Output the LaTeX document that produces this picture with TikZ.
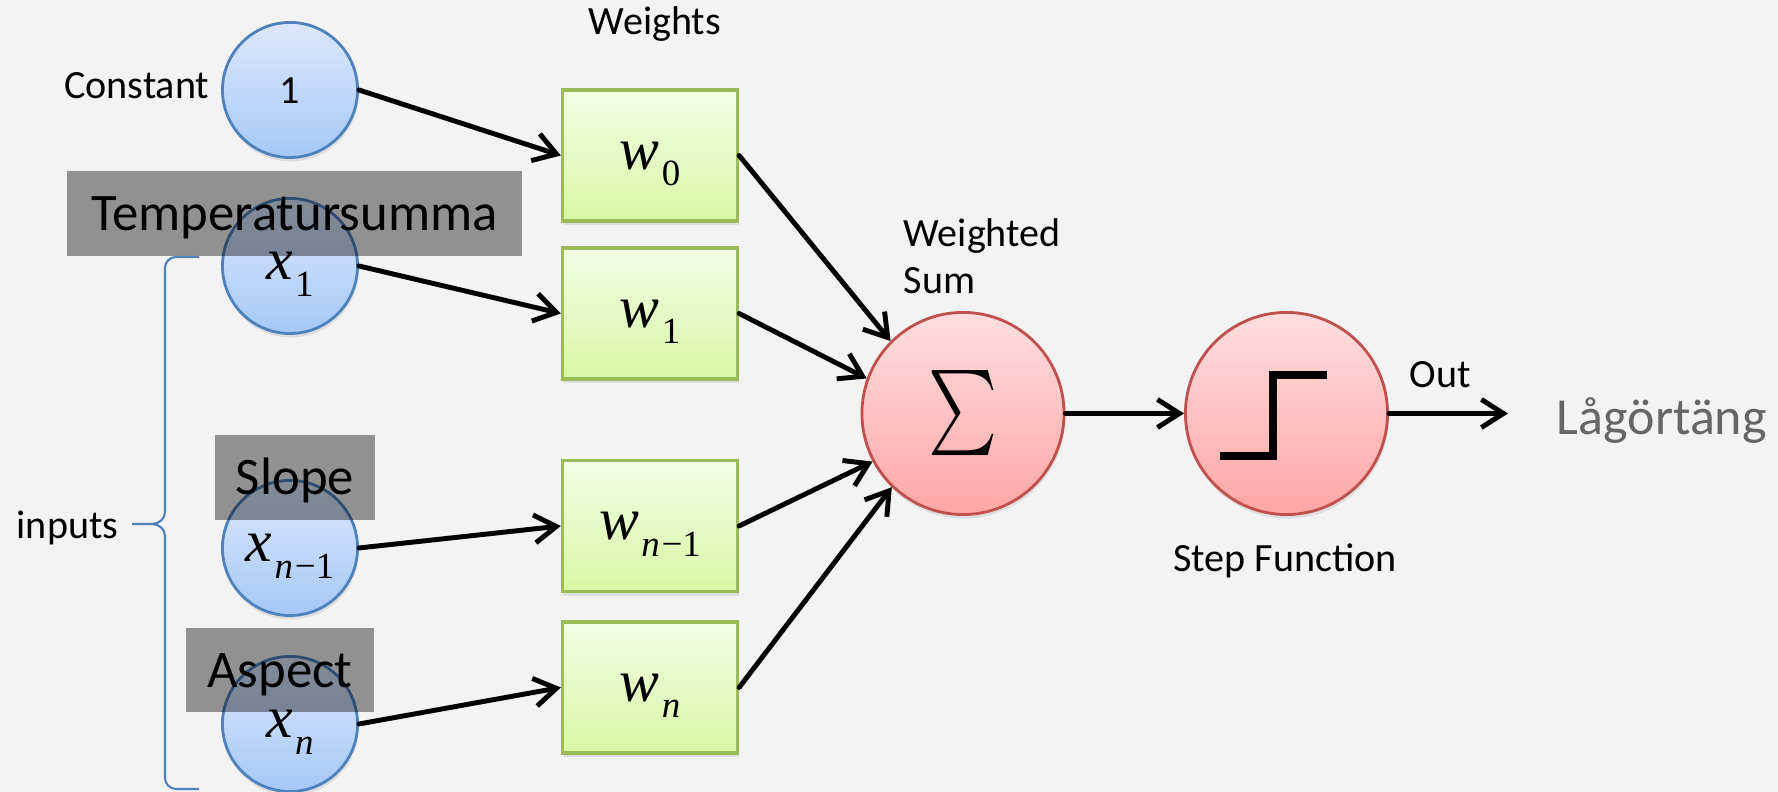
\documentclass[tikz,border=0pt]{standalone}
\usepackage{graphicx}
\usepackage{fontspec}
\setmainfont{Carlito}
\newfontfamily\eqfont{Liberation Serif}
\usetikzlibrary{arrows.meta, shadows, calc}

% Font sizes used in the picture
\newcommand{\fontLabel}{\fontsize{11.4pt}{13.4pt}\selectfont}
\newcommand{\fontBox}{\fontsize{15pt}{17pt}\selectfont}
\newcommand{\fontEq}{\fontsize{17pt}{20pt}\selectfont}
% Italic symbol with a lowered subscript
\newcommand{\subvar}[2]{{\eqfont\itshape #1}\kern0.04em\raisebox{-0.28em}{\fontsize{10.5pt}{12pt}\selectfont\eqfont #2}}

\begin{document}
\begin{tikzpicture}[x=0.01cm, y=0.01cm,
    inputnode/.style={circle, draw=inputBorder, line width=0.8pt,
        top color=inputTop, bottom color=inputBottom,
        minimum size=1.35cm, inner sep=0pt, text height=7.8pt, text depth=0pt, font=\fontEq,
        drop shadow={opacity=0.18, shadow xshift=0.01cm, shadow yshift=-0.04cm}},
    weightnode/.style={rectangle, draw=weightBorder, line width=0.9pt,
        top color=weightTop, bottom color=weightBottom,
        minimum width=1.75cm, minimum height=1.31cm, inner sep=0pt,
        text height=7.8pt, text depth=0pt, font=\fontEq,
        drop shadow={opacity=0.18, shadow xshift=0.01cm, shadow yshift=-0.04cm}},
    sumnode/.style={circle, draw=sumBorder, line width=0.8pt,
        top color=sumTop, bottom color=sumBottom,
        minimum size=2.02cm, inner sep=0pt,
        drop shadow={opacity=0.18, shadow xshift=0.01cm, shadow yshift=-0.04cm}},
    namebox/.style={rectangle, fill=black, fill opacity=0.4, text opacity=1,
        inner sep=0pt, text height=9.7pt, text depth=0pt, font=\fontBox},
    caption/.style={inner sep=0pt, font=\fontLabel},
    wire/.style={line width=1.4pt, line cap=round, -{Straight Barb[length=2.2mm,width=2.8mm]}}]

    \definecolor{bgColour}{HTML}{F3F3F3}
    \definecolor{inputBorder}{HTML}{4F81BD}
    \definecolor{inputTop}{HTML}{DCE8FB}
    \definecolor{inputBottom}{HTML}{A6C8F8}
    \definecolor{weightBorder}{HTML}{9BBB59}
    \definecolor{weightTop}{HTML}{F3FDE6}
    \definecolor{weightBottom}{HTML}{D6F8A4}
    \definecolor{sumBorder}{HTML}{C0504D}
    \definecolor{sumTop}{HTML}{FFDEDE}
    \definecolor{sumBottom}{HTML}{FFA6A6}
    \definecolor{outColour}{HTML}{666666}

    % Background
    \fill[bgColour] (0,0) rectangle (1778,792);
    \useasboundingbox (0,0) rectangle (1778,792);

    % Input neurons
    \node[inputnode] (c0)  at (290,702) {\fontLabel 1};
    \node[inputnode] (x1)  at (290,526) {\subvar{x}{1}};
    \node[inputnode] (xn1) at (290,244) {\subvar{x}{{\itshape n}\kern0.05em−1}};
    \node[inputnode] (xn)  at (290,68)  {\subvar{x}{\itshape n}};

    % Weights
    \node[weightnode] (w0)  at (650,636.5) {\subvar{w}{0}};
    \node[weightnode] (w1)  at (650,478.5) {\subvar{w}{1}};
    \node[weightnode] (wn1) at (650,266)   {\subvar{w}{{\itshape n}\kern0.05em−1}};
    \node[weightnode] (wn)  at (650,104.5) {\subvar{w}{\itshape n}};

    % Summation and step function
    \node[sumnode] (sig) at (963,378.5) {\resizebox*{0.69cm}{0.85cm}{$\sum$}};
    \node[sumnode] (step) at (1286.5,378.5) {};
    \draw[line width=0.08cm] ([shift={(-66.5,-42.5)}]step.center) -- ++(53,0) -- ++(0,81) -- ++(54,0);
    \coordinate (out) at (1508,378.5);

    % Names of the inputs
    \node[namebox, minimum width=4.55cm, minimum height=0.85cm] (tbox) at (294.5,578.5) {Temperatursumma};
    \node[namebox, minimum width=1.60cm, minimum height=0.85cm] (sbox) at (295,314.5) {Slope};
    \node[namebox, minimum width=1.88cm, minimum height=0.84cm] (abox) at (280,122) {Aspect};

    % Connections
    \draw[wire] (c0.east)  -- (w0.west);
    \draw[wire] (x1.east)  -- (w1.west);
    \draw[wire] (xn1.east) -- (wn1.west);
    \draw[wire] (xn.east)  -- (wn.west);
    \draw[wire] (w0.east)  -- (sig.135);
    \draw[wire] (w1.east)  -- (sig.160);
    \draw[wire] (wn1.east) -- (sig.208);
    \draw[wire] (wn.east)  -- (sig.226);
    \draw[wire] (sig.east) -- (step.west);
    \draw[wire] (step.east) -- (out);

    % Labels
    \node[caption, anchor=base east] (constant) at (210,693) {Constant};
    \node[caption, anchor=base] (weights) at (655,757) {Weights};
    \node[caption, anchor=base west] (weighted) at (903,545) {Weighted};
    \node[caption, anchor=base west] (sum) at (903,498) {Sum};
    \node[caption, anchor=base] (stepfn) at (1285,220) {Step Function};
    \node[caption, anchor=base] (outlabel) at (1440,404) {Out};
    \node[inner sep=0pt, anchor=base west, text=outColour, font=\fontsize{14.8pt}{17pt}\selectfont] (result) at (1556,357) {Lågörtäng};

    % Brace grouping the inputs
    \node[caption, anchor=base east] (inputs) at (119,253) {inputs};
    \draw[inputBorder, line width=0.6pt] (199,535) -- (176,535) to[out=180,in=90] (165,524)
        -- (165,280) to[out=-90,in=0] (152,268) -- (132,268) -- (152,268)
        to[out=0,in=90] (165,256) -- (165,14) to[out=-90,in=180] (176,3) -- (199,3);

\end{tikzpicture}
\end{document}
